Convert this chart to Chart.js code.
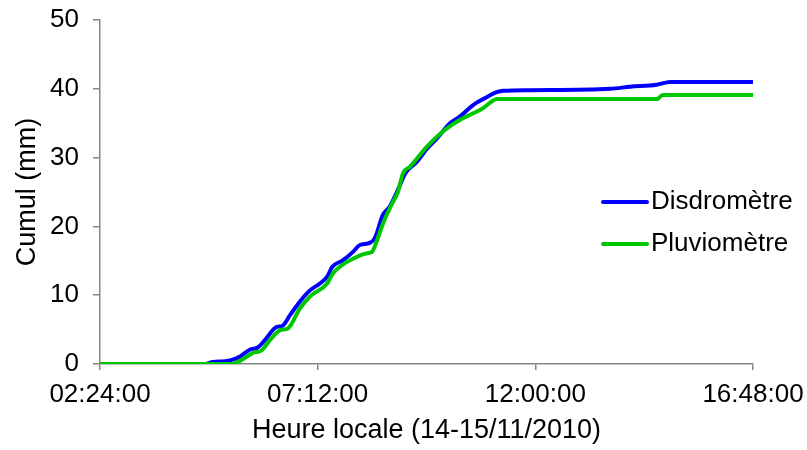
<!DOCTYPE html>
<html>
<head>
<meta charset="utf-8">
<title>Cumul</title>
<script src="https://cdn.jsdelivr.net/npm/chart.js@4"></script>
<style>
  body { margin: 0; background: #fff; }
  #cumul { display: block; }
</style>
</head>
<body>
<canvas id="cumul" width="807" height="450"></canvas>
<script>
// heures en décimal (2.4 = 02:24)
const disdroHeures = [2.4, 4.72, 4.89, 5.16, 5.31, 5.49, 5.71, 5.88, 6.04, 6.30, 6.41, 6.59, 6.81, 7.03, 7.25,
  7.41, 7.52, 7.76, 7.98, 8.13, 8.35, 8.46, 8.64, 8.79, 8.97, 9.13, 9.39, 9.61, 9.83, 10.12, 10.34,
  10.62, 10.85, 11.15, 11.29, 11.88, 13.65, 14.09, 14.68, 14.97, 16.8];
const disdroCumul = [0, 0, 0.3, 0.4, 0.6, 1.1, 2.1, 2.4, 3.5, 5.4, 5.5, 7.1, 9.1, 10.7, 11.7,
  12.7, 14.1, 15.1, 16.3, 17.3, 17.6, 18.3, 21.7, 22.9, 25.3, 27.7, 29.4, 31.3, 32.8, 35.0, 36.0,
  37.6, 38.5, 39.5, 39.7, 39.8, 40.0, 40.3, 40.6, 41.0, 41.0];

const pluvioHeures = [2.4, 5.31, 5.55, 5.77, 5.97, 6.15, 6.37, 6.55, 6.81, 7.03, 7.41, 7.54, 8.07, 8.29,
  8.40, 8.51, 8.64, 8.84, 8.97, 9.08, 9.24, 9.61, 9.96, 10.34, 10.62, 10.85, 11.07, 11.15, 14.68,
  14.81, 16.8];
const pluvioCumul = [0, 0, 0.7, 1.6, 2.0, 3.5, 4.9, 5.2, 8.1, 9.8, 11.7, 13.2, 15.6, 16.1,
  16.3, 18.0, 20.4, 23.3, 25.0, 27.7, 28.7, 31.6, 33.8, 35.5, 36.4, 37.2, 38.3, 38.5, 38.5,
  39.1, 39.1];

const heuresTicks = [2.4, 7.2, 12, 16.8];
const etiquettesTicks = ['02:24:00', '07:12:00', '12:00:00', '16:48:00'];

const noms = ['Disdromètre', 'Pluviomètre'];
const couleurs = ['#0000ff', '#00c800'];

const police = "'Liberation Sans', Arial, sans-serif";
const gris = '#868686';

function points(xs, ys) {
  return xs.map((x, i) => ({ x: x, y: ys[i] }));
}

// légende dessinée dans la zone du graphique, à droite
const legendeInterne = {
  id: 'legendeInterne',
  afterDatasetsDraw(chart) {
    const ctx = chart.ctx;
    ctx.save();
    ctx.font = '26px ' + police;
    ctx.textBaseline = 'middle';
    ctx.fillStyle = '#000';
    ctx.lineWidth = 4;
    ctx.lineCap = 'round';
    [202, 244].forEach((y, i) => {
      ctx.strokeStyle = couleurs[i];
      ctx.beginPath();
      ctx.moveTo(603, y);
      ctx.lineTo(647, y);
      ctx.stroke();
      ctx.fillText(noms[i], 651, y);
    });
    ctx.restore();
  }
};

new Chart(document.getElementById('cumul'), {
  type: 'line',
  data: {
    datasets: [
      {
        label: noms[0],
        data: points(disdroHeures, disdroCumul),
        borderColor: couleurs[0],
        borderWidth: 4,
        pointRadius: 0,
        cubicInterpolationMode: 'monotone',
        order: 1
      },
      {
        label: noms[1],
        data: points(pluvioHeures, pluvioCumul),
        borderColor: couleurs[1],
        borderWidth: 4,
        pointRadius: 0,
        cubicInterpolationMode: 'monotone',
        order: 0
      }
    ]
  },
  options: {
    responsive: false,
    animation: false,
    layout: { padding: { top: 20, right: 54, left: 0, bottom: 0 } },
    plugins: {
      legend: { display: false },
      tooltip: { enabled: false }
    },
    scales: {
      x: {
        type: 'linear',
        min: 2.4,
        max: 16.8,
        afterBuildTicks: axis => { axis.ticks = heuresTicks.map(v => ({ value: v })); },
        afterFit: axis => {
          axis.height = 86;
          axis.paddingLeft = 0;
          axis.paddingRight = 0;
        },
        ticks: {
          color: '#000',
          font: { family: police, size: 26 },
          padding: 9,
          maxRotation: 0,
          callback: (v, i) => etiquettesTicks[i]
        },
        grid: { drawOnChartArea: false, tickLength: 6, color: gris, lineWidth: 1.5 },
        border: { color: gris, width: 1.5 },
        title: {
          display: true,
          text: 'Heure locale (14-15/11/2010)',
          color: '#000',
          font: { family: police, size: 27 },
          padding: { top: 0, bottom: 3 }
        }
      },
      y: {
        min: 0,
        max: 50,
        afterFit: axis => {
          axis.width = 100;
          axis.paddingTop = 0;
          axis.paddingBottom = 0;
        },
        ticks: {
          stepSize: 10,
          color: '#000',
          font: { family: police, size: 26 },
          padding: 14
        },
        grid: { drawOnChartArea: false, tickLength: 7, color: gris, lineWidth: 1.5 },
        border: { color: gris, width: 1.5 },
        title: {
          display: true,
          text: 'Cumul (mm)',
          color: '#000',
          font: { family: police, size: 27 },
          padding: { top: 11, bottom: 0 }
        }
      }
    }
  },
  plugins: [legendeInterne]
});
</script>
</body>
</html>
